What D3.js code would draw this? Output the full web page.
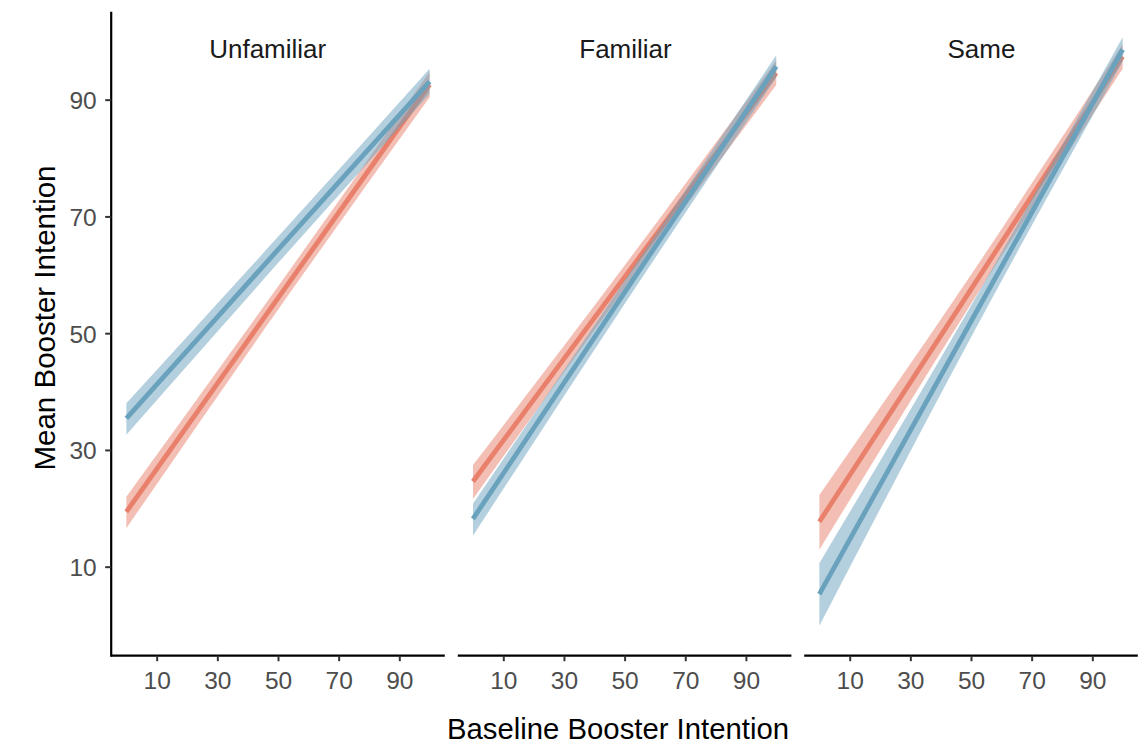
<!DOCTYPE html>
<html>
<head>
<meta charset="utf-8">
<script src="https://cdn.jsdelivr.net/npm/d3@7"></script>
<style>
  html, body { margin: 0; padding: 0; background: #fff; }
  svg { display: block; font-family: "Liberation Sans", Arial, Helvetica, sans-serif; }
</style>
</head>
<body>
<svg id="chart" width="1148" height="747"></svg>
<script>
// ---------------- data ----------------
const panels = ["Unfamiliar", "Familiar", "Same"];
const xTicks = [10, 30, 50, 70, 90];
const yTicks = [10, 30, 50, 70, 90];
const groups = ["red", "blue"];
// fitted values at baseline 0, 50, 100 : [x, fit, lower, upper]
const unfamiliarRed  = [[0, 19.4, 16.6, 22.0], [50, 56.0, 54.0, 58.0], [100, 92.6, 90.4, 94.8]];
const unfamiliarBlue = [[0, 35.4, 32.6, 38.0], [50, 64.3, 62.0, 66.5], [100, 93.1, 91.0, 95.3]];
const familiarRed    = [[0, 24.6, 21.6, 27.4], [50, 59.6, 57.6, 61.6], [100, 94.6, 92.5, 96.7]];
const familiarBlue   = [[0, 18.2, 15.3, 20.8], [50, 57.0, 55.0, 59.0], [100, 95.7, 93.8, 97.6]];
const sameRed        = [[0, 17.7, 12.9, 22.3], [50, 57.5, 55.0, 60.0], [100, 97.4, 95.3, 99.5]];
const sameBlue       = [[0, 5.3, -0.1, 10.6], [50, 52.0, 49.3, 54.7], [100, 98.6, 96.5, 100.7]];
const panelSeries = {
  "Unfamiliar": { red: unfamiliarRed, blue: unfamiliarBlue },
  "Familiar":   { red: familiarRed,   blue: familiarBlue },
  "Same":       { red: sameRed,       blue: sameBlue }
};

// ---------------- layout / style ----------------
const colors = { red: "#E8806B", blue: "#6AA2BD" };
const panelLefts = [111.2, 457.8, 804.2];
const panelWidth = 333.6;
const plotTop = 11.7, plotBottom = 655.7;
const stripCenters = [267.7, 625.5, 981.5];
const tickColor = "#333333";
const tickLabelColor = "#4d4d4d";

const svg = d3.select("#chart");
const y = d3.scaleLinear().domain([-5.25, 105.07]).range([plotBottom, plotTop]);

panels.forEach((p, i) => {
  const left = panelLefts[i];
  const x = d3.scaleLinear().domain([-5, 105]).range([left, left + panelWidth]);
  const g = svg.append("g");

  const area = d3.area().x(d => x(d[0])).y0(d => y(d[2])).y1(d => y(d[3])).curve(d3.curveNatural);
  const line = d3.line().x(d => x(d[0])).y(d => y(d[1]));

  groups.forEach(grp => {
    const data = panelSeries[p][grp];
    g.append("path").attr("d", area(data))
      .attr("fill", colors[grp]).attr("fill-opacity", 0.5).attr("stroke", "none");
    g.append("path").attr("d", line(data))
      .attr("fill", "none").attr("stroke", colors[grp]).attr("stroke-width", 4.8);
  });

  // strip label
  svg.append("text").attr("x", stripCenters[i]).attr("y", 58)
    .attr("text-anchor", "middle").attr("font-size", 26).attr("fill", "#1a1a1a").text(p);

  // x axis
  const xa = svg.append("g").attr("transform", `translate(0,${plotBottom})`)
    .call(d3.axisBottom(x).tickValues(xTicks).tickSize(5.5).tickSizeOuter(0));
  xa.select(".domain").attr("stroke", "#000").attr("stroke-width", 2.2)
    .attr("d", `M${left},0H${left + panelWidth}`);
  xa.selectAll(".tick line").attr("stroke", tickColor).attr("stroke-width", 2);
  xa.selectAll(".tick text").attr("y", 33.6).attr("dy", 0)
    .attr("font-size", 24.5).attr("fill", tickLabelColor)
    .style("font-family", "'Liberation Sans', Arial, sans-serif");
});

// y axis (first panel only)
const ya = svg.append("g").attr("transform", `translate(${panelLefts[0]},0)`)
  .call(d3.axisLeft(y).tickValues(yTicks).tickSize(6).tickSizeOuter(0));
ya.select(".domain").attr("stroke", "#000").attr("stroke-width", 2.2)
  .attr("d", `M0,${plotTop}V${plotBottom + 1.1}`);
ya.selectAll(".tick line").attr("stroke", tickColor).attr("stroke-width", 2);
ya.selectAll(".tick text").attr("x", -14.5).attr("dy", "0.36em")
  .attr("font-size", 24.5).attr("fill", tickLabelColor)
  .style("font-family", "'Liberation Sans', Arial, sans-serif");

// axis titles
svg.append("text").attr("x", 618).attr("y", 739.3).attr("text-anchor", "middle")
  .attr("font-size", 29.3).attr("fill", "#000").text("Baseline Booster Intention");
svg.append("text").attr("transform", "translate(55,318) rotate(-90)")
  .attr("text-anchor", "middle").attr("font-size", 29.5).attr("fill", "#000")
  .text("Mean Booster Intention");
</script>
</body>
</html>
